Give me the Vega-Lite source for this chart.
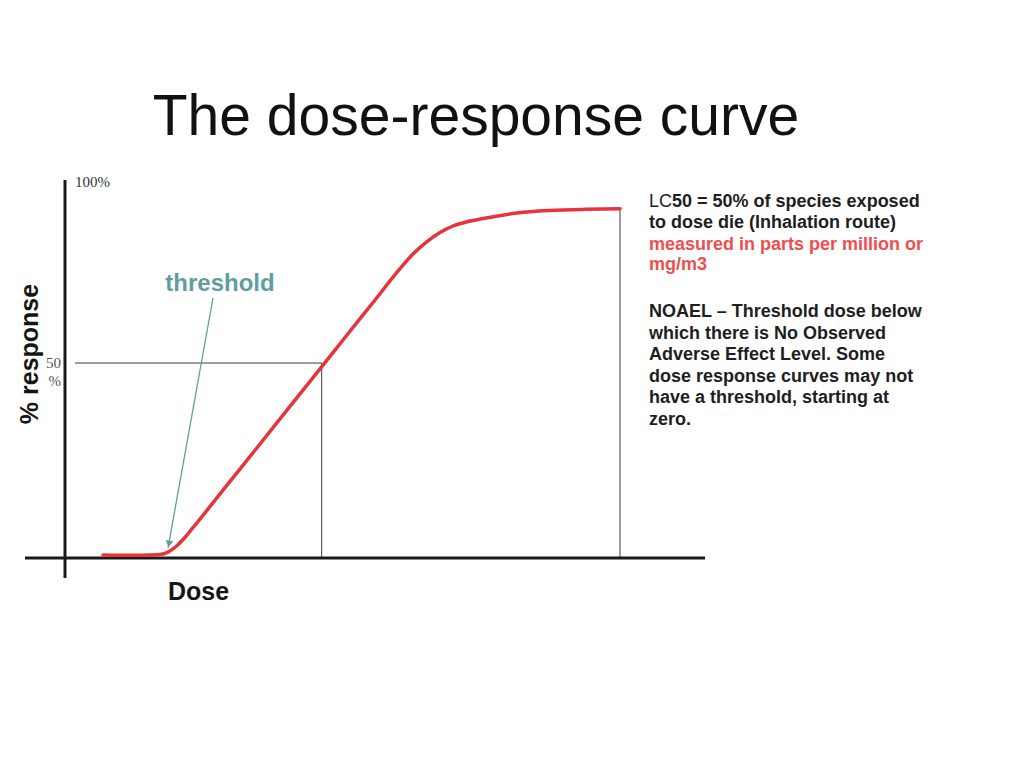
{
  "$schema": "https://vega.github.io/schema/vega-lite/v6.json",
  "width": 1021,
  "height": 770,
  "autosize": {"type": "fit", "contains": "padding"},
  "padding": 0,
  "background": "white",
  "config": {"view": {"stroke": null}},
  "datasets": {
    "frame": [
      {"dose": 0, "dose_end": 0, "response": -5.13, "response_end": 96.92},
      {"dose": -7.21, "dose_end": 115.32, "response": 0, "response_end": 0}
    ],
    "guides": [
      {"dose": 1.8, "dose_end": 46.25, "response": 50, "response_end": 50},
      {"dose": 46.25, "dose_end": 46.25, "response": 0, "response_end": 50},
      {"dose": 100, "dose_end": 100, "response": 0, "response_end": 89.56}
    ],
    "curve": [
      {"dose": 6.85, "response": 0.77},
      {"dose": 11.71, "response": 0.69},
      {"dose": 15.32, "response": 0.77},
      {"dose": 17.12, "response": 0.90},
      {"dose": 18.56, "response": 1.51},
      {"dose": 20.0, "response": 2.95},
      {"dose": 21.44, "response": 5.0},
      {"dose": 23.06, "response": 7.77},
      {"dose": 29.19, "response": 18.67},
      {"dose": 35.14, "response": 29.23},
      {"dose": 41.08, "response": 39.85},
      {"dose": 46.31, "response": 49.15},
      {"dose": 50.81, "response": 57.18},
      {"dose": 55.50, "response": 65.51},
      {"dose": 60.36, "response": 74.18},
      {"dose": 62.52, "response": 77.69},
      {"dose": 65.23, "response": 81.15},
      {"dose": 67.57, "response": 83.46},
      {"dose": 69.91, "response": 85.13},
      {"dose": 72.61, "response": 86.28},
      {"dose": 75.32, "response": 87.05},
      {"dose": 81.44, "response": 88.46},
      {"dose": 87.39, "response": 89.10},
      {"dose": 93.69, "response": 89.41},
      {"dose": 100, "response": 89.56}
    ],
    "arrow": [
      {"dose": 26.67, "response": 66.67},
      {"dose": 18.56, "response": 2.56}
    ],
    "arrowhead": [{"dose": 18.74, "response": 3.59}],
    "title": [{"dose": 74.05, "response": 108.46, "label": "The dose-response curve"}],
    "ticks_top": [{"dose": 1.8, "response": 95.13, "label": "100%"}],
    "ticks_mid": [
      {"dose": -0.72, "response": 48.72, "label": "50"},
      {"dose": -0.72, "response": 44.1, "label": "%"}
    ],
    "ylabel": [{"dose": -4.86, "response": 52.31, "label": "% response"}],
    "xlabel": [{"dose": 18.56, "response": -10.77, "label": "Dose"}],
    "threshold": [{"dose": 27.93, "response": 68.46, "label": "threshold"}],
    "note_regular": [{"dose": 105.23, "response": 90.0, "label": "LC"}],
    "note_bold": [
      {"dose": 109.37, "response": 90.0, "label": "50 = 50% of species exposed"},
      {"dose": 105.23, "response": 84.62, "label": "to dose die (Inhalation route)"},
      {"dose": 105.23, "response": 61.79, "label": "NOAEL – Threshold dose below"},
      {"dose": 105.23, "response": 56.15, "label": "which there is No Observed"},
      {"dose": 105.23, "response": 50.77, "label": "Adverse Effect Level. Some"},
      {"dose": 105.23, "response": 45.13, "label": "dose response curves may not"},
      {"dose": 105.23, "response": 39.74, "label": "have a threshold, starting at"},
      {"dose": 105.23, "response": 34.10, "label": "zero."}
    ],
    "note_red": [
      {"dose": 105.23, "response": 78.97, "label": "measured in parts per million or"},
      {"dose": 105.23, "response": 73.85, "label": "mg/m3"}
    ]
  },
  "encoding": {
    "x": {"field": "dose", "type": "quantitative", "scale": {"domain": [-11.71, 172.25], "nice": false, "zero": false}, "axis": null},
    "y": {"field": "response", "type": "quantitative", "scale": {"domain": [-54.36, 143.08], "nice": false, "zero": false}, "axis": null}
  },
  "layer": [
    {
      "data": {"name": "guides"},
      "mark": {"type": "rule", "color": "#3a3a3a", "strokeWidth": 1},
      "encoding": {"x2": {"field": "dose_end"}, "y2": {"field": "response_end"}}
    },
    {
      "data": {"name": "frame"},
      "mark": {"type": "rule", "color": "#1a1a1a", "strokeWidth": 3},
      "encoding": {"x2": {"field": "dose_end"}, "y2": {"field": "response_end"}}
    },
    {
      "data": {"name": "curve"},
      "mark": {"type": "line", "color": "#e8333b", "strokeWidth": 3.5, "interpolate": "monotone", "strokeCap": "round"},
      "encoding": {}
    },
    {
      "data": {"name": "arrow"},
      "mark": {"type": "line", "color": "#5f9ea0", "strokeWidth": 1.3},
      "encoding": {}
    },
    {
      "data": {"name": "arrowhead"},
      "mark": {"type": "point", "shape": "triangle-down", "filled": true, "color": "#5f9ea0", "size": 60, "angle": 10, "opacity": 1},
      "encoding": {}
    },
    {
      "data": {"name": "title"},
      "mark": {"type": "text", "font": "Liberation Sans", "fontSize": 57, "align": "center", "baseline": "alphabetic", "color": "#111111"},
      "encoding": {"text": {"field": "label"}}
    },
    {
      "data": {"name": "ticks_top"},
      "mark": {"type": "text", "font": "Liberation Serif", "fontSize": 15, "align": "left", "baseline": "alphabetic", "color": "#333333"},
      "encoding": {"text": {"field": "label"}}
    },
    {
      "data": {"name": "ticks_mid"},
      "mark": {"type": "text", "font": "Liberation Serif", "fontSize": 15, "align": "right", "baseline": "alphabetic", "color": "#555555"},
      "encoding": {"text": {"field": "label"}}
    },
    {
      "data": {"name": "ylabel"},
      "mark": {"type": "text", "font": "Liberation Sans", "fontWeight": "bold", "fontSize": 25, "align": "center", "baseline": "alphabetic", "angle": 270, "color": "#151515"},
      "encoding": {"text": {"field": "label"}}
    },
    {
      "data": {"name": "xlabel"},
      "mark": {"type": "text", "font": "Liberation Sans", "fontWeight": "bold", "fontSize": 25, "align": "left", "baseline": "alphabetic", "color": "#151515"},
      "encoding": {"text": {"field": "label"}}
    },
    {
      "data": {"name": "threshold"},
      "mark": {"type": "text", "font": "Liberation Sans", "fontWeight": "bold", "fontSize": 24, "align": "center", "baseline": "alphabetic", "color": "#5f9ea0"},
      "encoding": {"text": {"field": "label"}}
    },
    {
      "data": {"name": "note_regular"},
      "mark": {"type": "text", "font": "Liberation Sans", "fontSize": 18, "align": "left", "baseline": "alphabetic", "color": "#1e1e1e"},
      "encoding": {"text": {"field": "label"}}
    },
    {
      "data": {"name": "note_bold"},
      "mark": {"type": "text", "font": "Liberation Sans", "fontWeight": "bold", "fontSize": 18, "align": "left", "baseline": "alphabetic", "color": "#1e1e1e"},
      "encoding": {"text": {"field": "label"}}
    },
    {
      "data": {"name": "note_red"},
      "mark": {"type": "text", "font": "Liberation Sans", "fontWeight": "bold", "fontSize": 18, "align": "left", "baseline": "alphabetic", "color": "#f04e4e"},
      "encoding": {"text": {"field": "label"}}
    }
  ]
}
